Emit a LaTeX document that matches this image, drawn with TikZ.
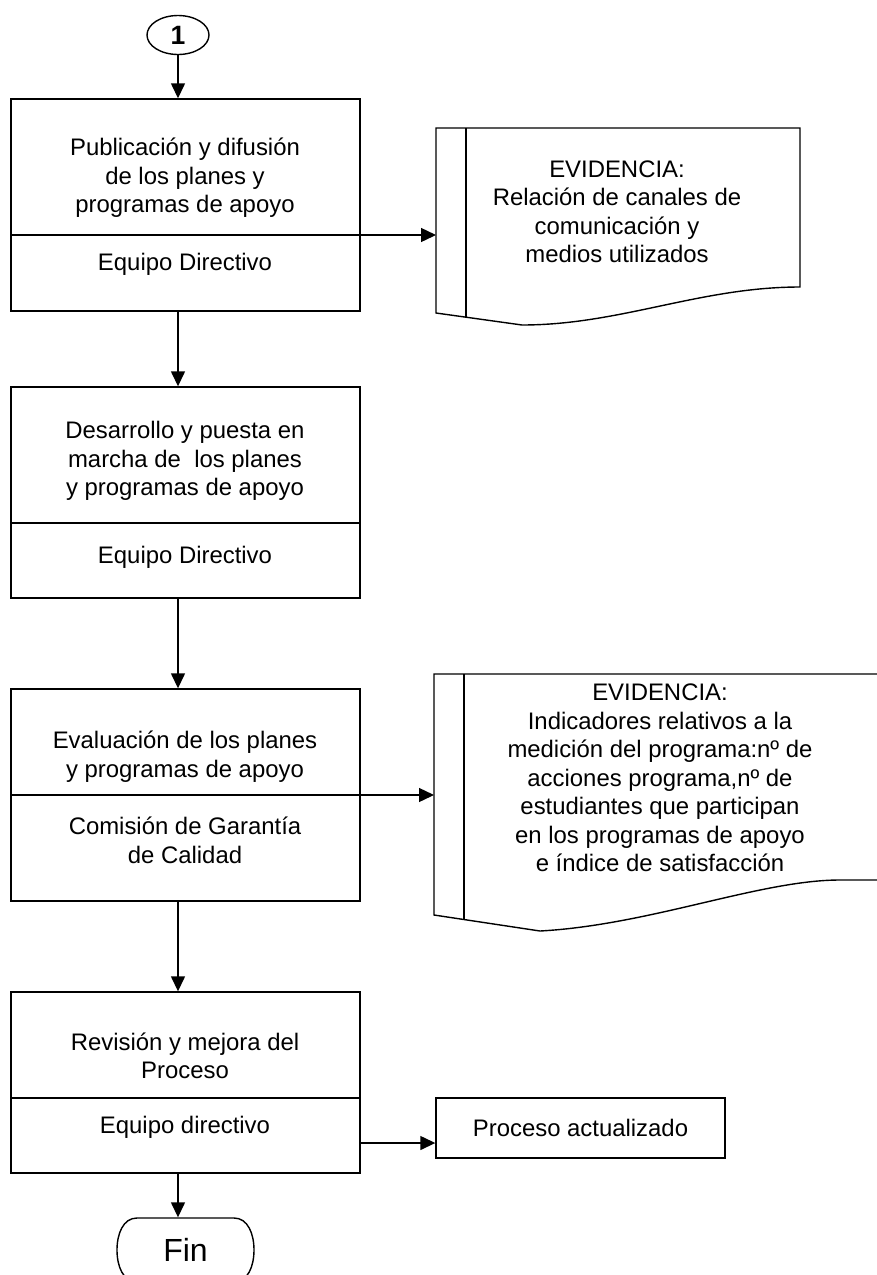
\documentclass[tikz,border=0pt]{standalone}
\usepackage{fontspec}
\setmainfont{Liberation Sans}
\usetikzlibrary{shapes.geometric, positioning, arrows.meta}

\begin{document}
\begin{tikzpicture}[
    x=1pt, y=-1pt,
    font=\fontsize{23.9}{28.5}\selectfont,
    line width=1.4pt,
    stepbox/.style={rectangle, draw, minimum width=349pt, inner sep=0pt},
    step_text/.style={align=center, inner sep=0pt},
    connector/.style={ellipse, draw, minimum width=62pt, minimum height=39pt, inner sep=0pt, font=\fontsize{26.5}{28}\selectfont\bfseries},
    terminal/.style={rectangle, minimum width=137pt, minimum height=64pt, inner sep=0pt, font=\fontsize{32}{36}\selectfont},
    outbox/.style={rectangle, draw, minimum width=289pt, minimum height=60pt, inner sep=0pt},
    arrow/.style={-{Triangle[length=15pt, width=14pt]}, line width=1.4pt}
]
    \useasboundingbox (0,0) rectangle (877,1275);
    \clip (0,0) rectangle (877,1275);

    % Page connector and end
    \node[connector] (one) at (178,35) {1};
    \node[terminal] (fin) at (185.5,1250) {Fin};
    \draw (137,1218) -- (234,1218) .. controls (248,1218) and (254,1234) .. (254,1250)
        .. controls (254,1266) and (248,1282) .. (234,1282) -- (137,1282)
        .. controls (123,1282) and (117,1266) .. (117,1250)
        .. controls (117,1234) and (123,1218) .. (137,1218) -- cycle;

    % Process steps
    \node[stepbox, minimum height=212pt] (box1) at (185.5,205) {};
    \node[stepbox, minimum height=211pt] (box2) at (185.5,492.5) {};
    \node[stepbox, minimum height=212pt] (box3) at (185.5,795) {};
    \node[stepbox, minimum height=181pt] (box4) at (185.5,1082.5) {};

    % Dividers between task and responsible
    \coordinate (div1) at (360,235);
    \coordinate (div2) at (360,523);
    \coordinate (div3) at (360,795);
    \coordinate (div4) at (360,1098);
    \draw (box1.west |- div1) -- (div1);
    \draw (box2.west |- div2) -- (div2);
    \draw (box3.west |- div3) -- (div3);
    \draw (box4.west |- div4) -- (div4);

    \node[step_text] (pub) at (185,178) {Publicación y difusión\\de los planes y\\programas de apoyo};
    \node[step_text] (pubresp) at (185,264) {Equipo Directivo};
    \node[step_text] (des) at (185,461) {Desarrollo y puesta en\\marcha de\ \ los planes\\y programas de apoyo};
    \node[step_text] (desresp) at (185,557) {Equipo Directivo};
    \node[step_text] (eva) at (185,756.5) {Evaluación de los planes\\y programas de apoyo};
    \node[step_text] (evaresp) at (185,840.5) {Comisión de Garantía\\de Calidad};
    \node[step_text] (rev) at (185,1056) {Revisión y mejora del\\Proceso};
    \node[step_text] (revresp) at (185,1127) {Equipo directivo};

    % Evidence documents
    \draw (436,128) -- (800,128) -- (800,287) .. controls (700,287) and (620,325) .. (522,325) -- (436,313) -- cycle;
    \draw (466,128) -- (466,317);
    \node[step_text] (ev1) at (617,212) {EVIDENCIA:\\Relación de canales de\\comunicación y\\medios utilizados};

    \draw (890,880) -- (840,880) .. controls (760,880) and (650,925) .. (540,931) -- (434,915) -- (434,674) -- (890,674);
    \draw (464,674) -- (464,920);
    \node[step_text] (ev2) at (660,778) {EVIDENCIA:\\Indicadores relativos a la\\medición del programa:nº de\\acciones programa,nº de\\estudiantes que participan\\en los programas de apoyo\\e índice de satisfacción};

    % Output
    \node[outbox] (upd) at (580.5,1128) {Proceso actualizado};

    % Flow arrows
    \coordinate (ev1in) at (436,235);
    \coordinate (ev2in) at (434,795);
    \coordinate (out4) at (360,1143);
    \draw[arrow] (one.south) -- (one.south |- box1.north);
    \draw[arrow] (one |- box1.south) -- (one |- box2.north);
    \draw[arrow] (one |- box2.south) -- (one |- box3.north);
    \draw[arrow] (one |- box3.south) -- (one |- box4.north);
    \draw[arrow] (one |- box4.south) -- (one |- fin.north);
    \draw[arrow] (div1) -- (ev1in);
    \draw[arrow] (div3) -- (ev2in);
    \draw[arrow] (out4) -- (out4 -| upd.west);

\end{tikzpicture}
\end{document}
